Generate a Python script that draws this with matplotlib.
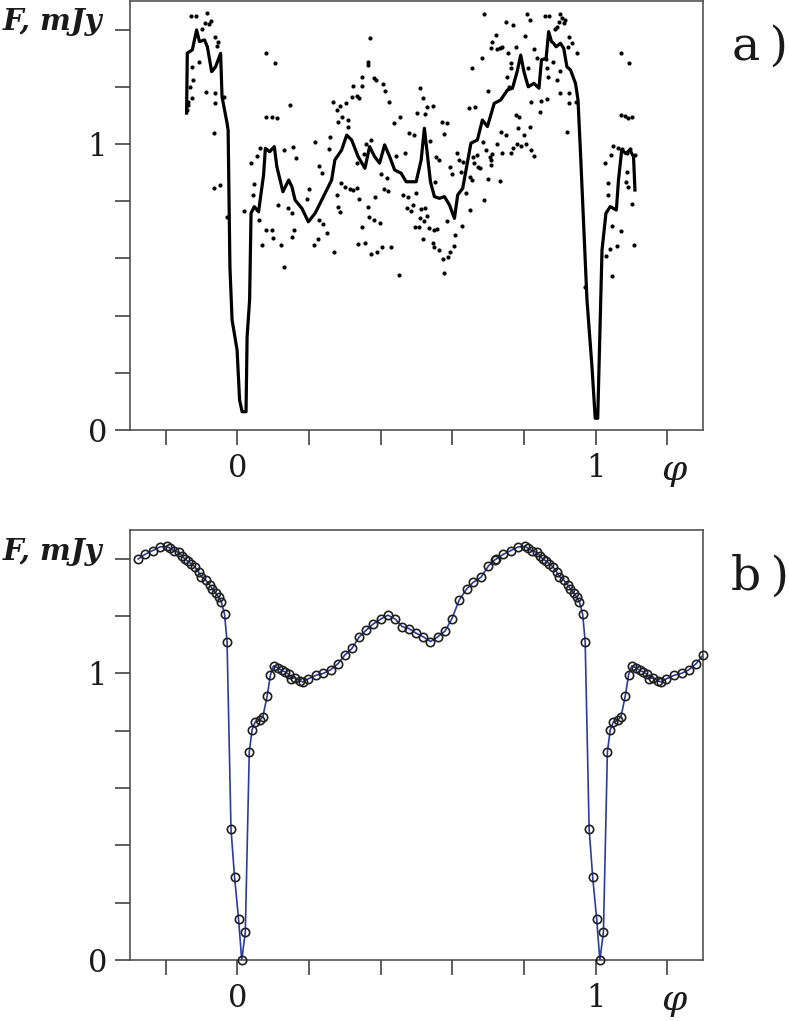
import numpy as np
import matplotlib
matplotlib.use("Agg")
from matplotlib import pyplot as plt

plt.rcParams['font.family'] = ['DejaVu Serif']
plt.rcParams['mathtext.fontset'] = 'dejavuserif'

# a) individual flux measurements folded on phase (dots)
obs_phase = [
    -0.131, -0.115, -0.084, -0.091, -0.075, -0.080, -0.100, -0.063, -0.054, -0.056,
    -0.108, -0.126, -0.124, -0.133, -0.089, -0.063, -0.126, -0.138, -0.139, -0.063,
    -0.038, -0.066, -0.066, -0.050, -0.140, -0.030, 0.080, 0.104, 0.147, 0.080,
    0.096, 0.110, 0.062, 0.055, 0.038, 0.047, 0.044, 0.019, 0.059, 0.069,
    0.080, 0.096, 0.099, 0.122, 0.131, 0.113, 0.131, 0.156, 0.163, 0.141,
    0.152, 0.159, 0.152, 0.217, 0.228, 0.237, 0.258, 0.256, 0.200, 0.195,
    0.228, 0.240, 0.249, 0.224, 0.215, 0.270, 0.268, 0.277, 0.286, 0.302,
    0.319, 0.323, 0.280, 0.291, 0.308, 0.309, 0.289, 0.300, 0.314, 0.277,
    0.280, 0.286, 0.369, 0.365, 0.365, 0.348, 0.381, 0.388, 0.348, 0.406,
    0.413, 0.335, 0.339, 0.422, 0.437, 0.455, 0.511, 0.518, 0.502, 0.524,
    0.530, 0.546, 0.478, 0.493, 0.570, 0.584, 0.578, 0.374, 0.360, 0.444,
    0.469, 0.354, 0.335, 0.400, 0.418, 0.323, 0.333, 0.339, 0.383, 0.409,
    0.420, 0.365, 0.367, 0.381, 0.397, 0.348, 0.337, 0.356, 0.372, 0.390,
    0.405, 0.428, 0.450, 0.462, 0.476, 0.474, 0.490, 0.485, 0.499, 0.513,
    0.525, 0.511, 0.520, 0.530, 0.496, 0.506, 0.518, 0.536, 0.550, 0.558,
    0.545, 0.550, 0.562, 0.574, 0.587, 0.594, 0.604, 0.578, 0.585, 0.608,
    0.626, 0.552, 0.539, 0.555, 0.564, 0.594, 0.598, 0.613, 0.619, 0.631,
    0.624, 0.638, 0.650, 0.647, 0.663, 0.654, 0.684, 0.689, 0.700, 0.712,
    0.721, 0.708, 0.726, 0.733, 0.740, 0.749, 0.770, 0.756, 0.779, 0.763,
    0.763, 0.754, 0.659, 0.669, 0.661, 0.672, 0.678, 0.650, 0.656, 0.687,
    0.689, 0.700, 0.708, 0.712, 0.708, 0.726, 0.735, 0.751, 0.740, 0.733,
    0.763, 0.770, 0.780, 0.791, 0.777, 0.786, 0.783, 0.800, 0.809, 0.816,
    0.858, 0.869, 0.902, 0.905, 0.916, 0.911, 0.897, 0.803, 0.812, 0.828,
    0.837, 0.886, 0.893, 0.862, 0.881, 0.865, 0.925, 0.933, 0.923, 0.948,
    0.757, 0.867, 0.893, 0.902, 0.902, 0.925, 0.927, 0.945, 0.821, 0.849,
    0.865, 0.844, 0.816, 0.695, 0.705, 0.806, 0.819, 0.828, 0.920, 0.971,
    1.071, 1.092, 1.071, 1.081, 1.090, 1.101, 1.050, 1.062, 1.073, 1.087,
    1.096, 1.110, 1.027, 1.044, 1.034, 1.034, 1.087, 1.090, 1.084, 1.101,
    1.047, 1.071, 1.041, 1.059, 1.029, 1.047, 1.108,
]
obs_flux = [
    1.449, 1.449, 1.457, 1.424, 1.431, 1.420, 1.401, 1.375, 1.358, 1.343,
    1.288, 1.270, 1.224, 1.200, 1.183, 1.177, 1.160, 1.148, 1.136, 1.144,
    1.165, 1.040, 0.845, 0.857, 1.119, 0.746, 1.317, 1.282, 1.136, 1.095,
    1.095, 1.090, 0.985, 0.958, 0.933, 0.859, 0.822, 0.767, 0.734, 0.647,
    0.699, 0.699, 0.672, 0.647, 0.571, 0.787, 0.979, 0.991, 0.950, 0.775,
    0.758, 0.699, 0.676, 1.008, 0.924, 0.900, 1.023, 0.981, 0.843, 0.807,
    0.734, 0.720, 0.690, 0.667, 0.647, 0.623, 1.148, 1.119, 1.133, 1.144,
    1.163, 1.203, 1.078, 1.093, 1.084, 1.060, 0.863, 0.849, 0.842, 0.822,
    0.781, 0.763, 1.370, 1.288, 1.276, 1.233, 1.230, 1.224, 1.203, 1.210,
    1.186, 1.168, 1.160, 1.148, 1.072, 1.093, 1.195, 1.160, 1.107, 1.105,
    1.128, 1.133, 1.037, 1.031, 1.078, 1.072, 1.034, 1.014, 1.000, 0.958,
    0.970, 0.965, 0.933, 0.894, 0.882, 0.839, 0.845, 0.807, 0.816, 0.842,
    0.836, 0.779, 0.744, 0.734, 0.723, 0.711, 0.649, 0.655, 0.615, 0.621,
    0.639, 0.639, 0.542, 0.822, 0.814, 0.777, 0.787, 0.767, 0.830, 0.772,
    0.777, 0.740, 0.732, 0.748, 0.711, 0.711, 0.668, 0.705, 0.699, 0.702,
    0.653, 0.641, 0.629, 0.598, 0.604, 0.623, 0.643, 0.550, 0.732, 0.682,
    0.713, 0.868, 1.012, 0.956, 0.944, 0.921, 0.895, 0.967, 0.944, 0.938,
    0.903, 0.828, 0.769, 1.125, 1.128, 1.265, 1.300, 1.455, 1.186, 1.358,
    1.381, 1.335, 1.331, 1.335, 1.340, 1.428, 1.416, 1.319, 1.340, 1.282,
    1.265, 1.233, 0.956, 0.962, 0.933, 0.921, 0.915, 0.886, 0.874, 1.008,
    0.804, 0.877, 0.944, 0.965, 0.927, 1.000, 1.043, 1.031, 0.967, 0.871,
    0.967, 0.985, 1.000, 0.993, 1.101, 1.093, 1.055, 1.031, 1.455, 1.434,
    1.449, 1.449, 1.455, 1.440, 1.434, 1.422, 1.428, 1.378, 1.265, 1.331,
    1.300, 1.401, 1.408, 1.296, 1.288, 1.265, 1.375, 1.352, 1.340, 1.317,
    1.198, 1.233, 1.224, 1.256, 1.179, 1.179, 1.142, 1.148, 1.148, 1.150,
    1.156, 1.113, 1.060, 0.979, 0.956, 1.000, 0.979, 0.958, 1.043, 0.501,
    1.317, 1.284, 1.101, 1.098, 1.090, 1.093, 0.993, 0.985, 0.981, 0.970,
    0.981, 0.962, 0.933, 0.962, 0.865, 0.822, 0.903, 0.851, 0.868, 0.790,
    0.713, 0.697, 0.632, 0.643, 0.608, 0.538, 0.647,
]

# a) running mean of the measurements (thick line)
mean_phase = [
    -0.142, -0.140, -0.126, -0.114, -0.106, -0.092, -0.084, -0.072, -0.061, -0.047,
    -0.043, -0.029, -0.026, -0.021, -0.015, -0.001, 0.006, 0.013, 0.024, 0.027,
    0.034, 0.038, 0.047, 0.059, 0.073, 0.078, 0.090, 0.103, 0.110, 0.127,
    0.143, 0.152, 0.161, 0.180, 0.198, 0.217, 0.240, 0.263, 0.272, 0.291,
    0.305, 0.319, 0.337, 0.356, 0.369, 0.383, 0.397, 0.411, 0.425, 0.439,
    0.457, 0.471, 0.485, 0.499, 0.513, 0.522, 0.530, 0.539, 0.550, 0.564,
    0.578, 0.592, 0.606, 0.615, 0.629, 0.652, 0.670, 0.684, 0.698, 0.717,
    0.735, 0.754, 0.768, 0.781, 0.791, 0.800, 0.812, 0.828, 0.842, 0.849,
    0.862, 0.869, 0.877, 0.883, 0.890, 0.902, 0.911, 0.920, 0.930, 0.944,
    0.951, 0.958, 0.967, 0.976, 0.990, 0.999, 1.006, 1.018, 1.029, 1.041,
    1.058, 1.064, 1.073, 1.084, 1.096, 1.106, 1.110,
]
mean_flux = [
    1.108, 1.318, 1.329, 1.399, 1.358, 1.364, 1.340, 1.253, 1.270, 1.317,
    1.165, 1.073, 1.049, 0.571, 0.385, 0.280, 0.105, 0.064, 0.064, 0.326,
    0.455, 0.758, 0.781, 0.763, 0.892, 0.985, 0.973, 0.991, 0.921, 0.833,
    0.874, 0.851, 0.804, 0.775, 0.728, 0.758, 0.816, 0.874, 0.944, 0.979,
    1.031, 1.014, 0.956, 0.915, 0.991, 0.956, 0.933, 0.997, 0.956, 0.909,
    0.898, 0.868, 0.868, 0.868, 0.944, 1.055, 0.967, 0.868, 0.816, 0.810,
    0.816, 0.787, 0.740, 0.822, 0.845, 1.003, 1.014, 1.084, 1.061, 1.142,
    1.154, 1.189, 1.195, 1.253, 1.311, 1.253, 1.200, 1.212, 1.195, 1.294,
    1.300, 1.393, 1.358, 1.352, 1.340, 1.352, 1.335, 1.270, 1.259, 1.212,
    1.154, 0.967, 0.711, 0.455, 0.221, 0.041, 0.041, 0.629, 0.758, 0.781,
    0.769, 0.874, 0.979, 0.967, 0.979, 0.956, 0.839,
]

# b) model light curve over one period (repeated at phase + 1)
model_phase = [
    -0.277, -0.258, -0.237, -0.216, -0.197, -0.188, -0.177, -0.163, -0.154, -0.147,
    -0.138, -0.129, -0.119, -0.108, -0.101, -0.089, -0.078, -0.070, -0.061, -0.052,
    -0.045, -0.036, -0.029, -0.018, -0.008, 0.003, 0.012, 0.022, 0.033, 0.041,
    0.050, 0.062, 0.071, 0.083, 0.092, 0.101, 0.112, 0.124, 0.133, 0.143,
    0.149, 0.161, 0.175, 0.184, 0.198, 0.219, 0.240, 0.260, 0.281, 0.300,
    0.320, 0.340, 0.360, 0.379, 0.400, 0.420, 0.441, 0.460, 0.479, 0.499,
    0.519, 0.539, 0.559, 0.580, 0.599, 0.619, 0.640, 0.658, 0.680, 0.701,
    0.719,
]
model_flux = [
    1.399, 1.415, 1.428, 1.441, 1.443, 1.436, 1.427, 1.422, 1.408, 1.399,
    1.391, 1.382, 1.372, 1.352, 1.337, 1.326, 1.309, 1.294, 1.280, 1.265,
    1.249, 1.206, 1.111, 0.457, 0.289, 0.144, 0.000, 0.098, 0.725, 0.804,
    0.831, 0.836, 0.849, 0.921, 0.994, 1.026, 1.020, 1.010, 1.005, 0.997,
    0.981, 0.985, 0.973, 0.970, 0.981, 0.993, 1.000, 1.012, 1.034, 1.064,
    1.087, 1.127, 1.151, 1.172, 1.189, 1.203, 1.189, 1.163, 1.156, 1.140,
    1.127, 1.111, 1.127, 1.148, 1.191, 1.255, 1.294, 1.317, 1.335, 1.375,
    1.396,
]

W, H = 789, 1021
fig = plt.figure(figsize=(W / 100, H / 100), dpi=100)
ax1 = fig.add_axes([130 / W, 1 - 430 / H, 573 / W, 429 / H])
ax2 = fig.add_axes([130 / W, 1 - 960 / H, 573 / W, 430 / H])


def style(ax):
    ax.set_xlim(-0.3, 1.3)
    ax.set_ylim(0, 1.5)
    xt = np.arange(-0.2, 1.21, 0.2)
    ax.set_xticks(xt)
    ax.set_xticklabels(['0' if abs(v) < 1e-6 else '1' if abs(v - 1) < 1e-6 else '' for v in xt])
    yt = np.arange(0, 1.41, 0.2)
    ax.set_yticks(yt)
    ax.set_yticklabels(['0' if abs(v) < 1e-6 else '1' if abs(v - 1) < 1e-6 else '' for v in yt])
    ax.tick_params(direction='out', length=10.5, width=1.1, pad=6, labelsize=22,
                   color='#333333', labelcolor='#1a1a1a')
    for s in ax.spines.values():
        s.set_linewidth(1.1)
        s.set_color('#444444')


style(ax1)
ax1.plot(obs_phase, obs_flux, 'o', color='black', ms=3.0, mew=0)
ax1.plot(mean_phase, mean_flux, '-', color='black', lw=2.3, solid_joinstyle='round')

style(ax2)
ph = np.concatenate([model_phase, np.array(model_phase) + 1])
fl = np.concatenate([model_flux, model_flux])
keep = ph <= 1.301
ax2.plot(ph[keep], fl[keep], '-', color='#2b3aa0', lw=1.2, zorder=2)
ax2.plot(ph[keep], fl[keep], 'o', mfc='none', mec='#1f1f1f', ms=6.0, mew=1.2,
         zorder=3, clip_on=False)

for top, tag in [(0, 'a\u2009)'), (530, 'b\u2009)')]:
    fig.text(3 / W, 1 - (top + 30) / H, 'F, mJy', fontsize=21, style='italic',
             weight='bold', ha='left', va='baseline', color='#1a1a1a')
    fig.text(760 / W, 1 - (top + 60) / H, tag, fontsize=34,
             ha='center', va='baseline', color='#1a1a1a')
    fig.text(675 / W, 1 - (top + 472) / H, r'$\varphi$', fontsize=26, ha='center',
             va='center', color='#1a1a1a')

fig.savefig('out.png', dpi=100)
